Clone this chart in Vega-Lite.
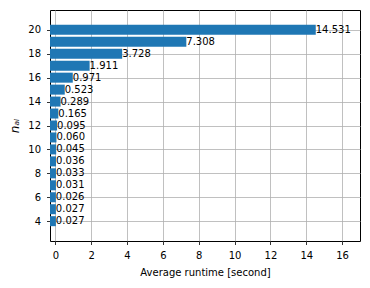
{
  "$schema": "https://vega.github.io/schema/vega-lite/v6.json",
  "width": 310,
  "height": 231,
  "autosize": {"type": "none"},
  "padding": {"left": 50, "top": 10, "right": 10, "bottom": 47},
  "config": {
    "font": "DejaVu Sans",
    "view": {"stroke": "black", "strokeWidth": 1},
    "axis": {
      "labelFont": "DejaVu Sans", "labelFontSize": 10, "labelColor": "black",
      "titleFont": "DejaVu Sans", "titleFontSize": 10, "titleColor": "black", "titleFontWeight": "normal",
      "tickColor": "black", "tickSize": 3.5, "tickWidth": 0.8,
      "domain": false, "labelOverlap": false, "labelFlush": false,
      "gridColor": "#b0b0b0", "gridWidth": 0.8, "gridOpacity": 1,
      "zindex": 1
    }
  },
  "data": {
    "values": [
      {"n": 4, "t": 0.027},
      {"n": 5, "t": 0.027},
      {"n": 6, "t": 0.026},
      {"n": 7, "t": 0.031},
      {"n": 8, "t": 0.033},
      {"n": 9, "t": 0.036},
      {"n": 10, "t": 0.045},
      {"n": 11, "t": 0.060},
      {"n": 12, "t": 0.095},
      {"n": 13, "t": 0.165},
      {"n": 14, "t": 0.289},
      {"n": 15, "t": 0.523},
      {"n": 16, "t": 0.971},
      {"n": 17, "t": 1.911},
      {"n": 18, "t": 3.728},
      {"n": 19, "t": 7.308},
      {"n": 20, "t": 14.531}
    ]
  },
  "encoding": {
    "y": {
      "field": "n", "type": "quantitative",
      "scale": {"domain": [2.76, 21.24], "nice": false, "zero": false},
      "axis": {"values": [4, 6, 8, 10, 12, 14, 16, 18, 20], "title": "nₐᵢ", "titleFontStyle": "italic", "titleFontSize": 12, "titlePadding": 6, "labelPadding": 6}
    },
    "x": {
      "field": "t", "type": "quantitative",
      "scale": {"domain": [-0.3, 17.0], "nice": false, "zero": false},
      "axis": {"values": [0, 2, 4, 6, 8, 10, 12, 14, 16], "tickCount": 9, "title": "Average runtime [second]", "titlePadding": 7, "labelPadding": 6}
    }
  },
  "layer": [
    {
      "mark": {"type": "bar", "color": "#1f77b4", "size": 10},
      "encoding": {
        "x2": {"datum": -0.3}
      }
    },
    {
      "mark": {"type": "text", "align": "left", "baseline": "middle", "fontSize": 10, "color": "black", "font": "DejaVu Sans"},
      "encoding": {
        "text": {"field": "t", "type": "quantitative", "format": ".3f"}
      }
    }
  ]
}
